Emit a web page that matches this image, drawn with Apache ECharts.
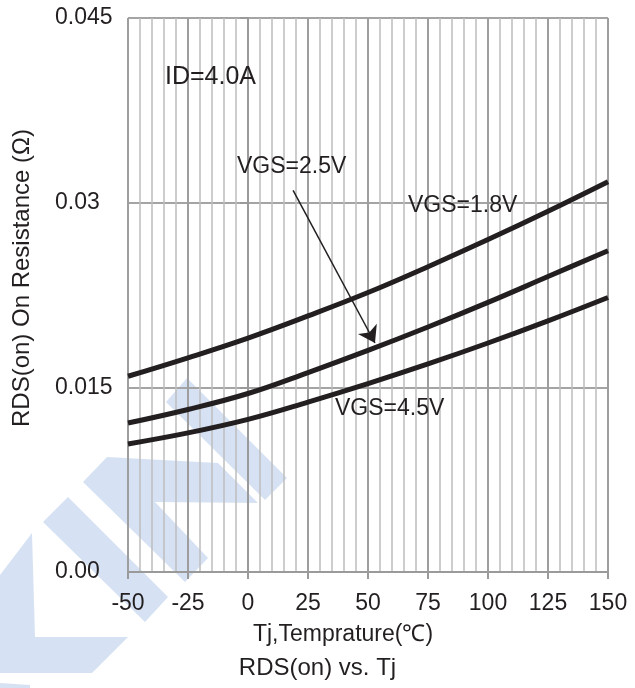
<!DOCTYPE html>
<html>
<head>
<meta charset="utf-8">
<script src="https://cdn.jsdelivr.net/npm/echarts@6/dist/echarts.min.js"></script>
<style>
  html, body { margin: 0; padding: 0; background: #fff; }
  #chart { width: 635px; height: 688px; }
</style>
</head>
<body>
<div id="chart"></div>
<script>
// junction temperature (℃)
var temps = [-50, -25, 0, 25, 50, 75, 100, 125, 150];
// RDS(on) in ohm
var vgs18 = [0.0159, 0.0174, 0.0190, 0.0208, 0.0227, 0.0248, 0.0270, 0.0293, 0.0317];
var vgs25 = [0.0121, 0.0132, 0.0145, 0.0162, 0.0180, 0.0199, 0.0219, 0.0240, 0.0261];
var vgs45 = [0.0104, 0.0113, 0.0124, 0.0138, 0.0153, 0.0169, 0.0186, 0.0204, 0.0223];
var yTickLabels = ['0.00', '0.015', '0.03', '0.045'];
// arrow from the VGS=2.5V label to its curve
var arrowFrom = [18.8, 0.0310];
var arrowTo = [52.9, 0.0186];

var font = '"Liberation Sans", Arial, sans-serif';
var ink = '#231f20';

function pairs(ys) {
  return temps.map(function (t, i) { return [t, ys[i]]; });
}

function curve(name, ys) {
  return {
    name: name,
    type: 'line',
    smooth: 0.4,
    symbol: 'none',
    lineStyle: {color: ink, width: 5},
    data: pairs(ys)
  };
}

// light blue logo watermark in the lower left corner
var wm = 'rgba(180, 203, 234, 0.55)';
var watermark = [
  [[187, 378], [287, 478], [265, 500], [166, 402]],
  [[107, 457], [218, 463], [258, 503], [155, 502], [208, 558], [185, 582], [83, 482]],
  [[68, 497], [168, 597], [145, 622], [43, 522]],
  [[32, 533], [35, 637], [128, 637], [92, 673], [0, 673], [0, 575]],
  [[0, 683], [30, 685], [30, 688], [0, 688]]
].map(function (pts) {
  return {type: 'polygon', z: -10, silent: true, shape: {points: pts}, style: {fill: wm}};
});

function label(text, x, y, size) {
  return {
    type: 'text', left: x, top: y, z: 50,
    style: {text: text, font: size + 'px ' + font, fill: ink}
  };
}

var chart = echarts.init(document.getElementById('chart'));
chart.setOption({
  animation: false,
  backgroundColor: '#fff',
  title: {
    text: 'RDS(on) vs. Tj',
    left: 'center',
    top: 651,
    textStyle: {fontFamily: font, fontSize: 24, fontWeight: 'normal', color: ink}
  },
  grid: {left: 128, right: 27, top: 18, bottom: 116},
  xAxis: {
    type: 'value',
    min: -50,
    max: 150,
    interval: 25,
    axisLine: {lineStyle: {color: '#9a9a9a', width: 2}},
    axisTick: {show: true, length: 7, lineStyle: {color: '#9a9a9a', width: 2}},
    axisLabel: {margin: 20, fontFamily: font, fontSize: 23, color: ink},
    splitLine: {lineStyle: {color: '#9e9e9e', width: 2}},
    minorTick: {show: false, splitNumber: 5},
    minorSplitLine: {show: true, lineStyle: {color: '#bdbdbd', width: 1.5}}
  },
  yAxis: {
    type: 'value',
    min: 0,
    max: 0.045,
    interval: 0.015,
    axisLine: {show: true, lineStyle: {color: '#9a9a9a', width: 2}},
    axisTick: {show: true, length: 8, lineStyle: {color: '#9a9a9a', width: 2}},
    axisLabel: {
      align: 'left',
      margin: 73,
      fontFamily: font,
      fontSize: 23,
      color: ink,
      formatter: function (v, i) { return yTickLabels[i]; }
    },
    splitLine: {lineStyle: {color: '#a4a4a4', width: 2}}
  },
  graphic: watermark.concat([
    label('ID=4.0A', 165, 65, 25),
    label('VGS=2.5V', 237, 155, 23),
    label('VGS=1.8V', 408, 194, 23),
    label('VGS=4.5V', 335, 397, 23),
    {
      type: 'text', x: 10, y: 278, rotation: Math.PI / 2, z: 50,
      style: {
        text: 'RDS(on) On Resistance (Ω)', font: '24px ' + font, fill: ink,
        align: 'center', verticalAlign: 'top'
      }
    },
    {
      type: 'text', x: 343, y: 623, z: 50,
      style: {
        text: 'Tj,Temprature(℃)', font: '23px ' + font, fill: ink,
        align: 'center', verticalAlign: 'top'
      }
    }
  ]),
  series: [
    curve('VGS=1.8V', vgs18),
    curve('VGS=2.5V', vgs25),
    curve('VGS=4.5V', vgs45),
    {
      type: 'line',
      data: [],
      markLine: {
        silent: true,
        symbol: ['none', 'arrow'],
        symbolSize: 16,
        label: {show: false},
        lineStyle: {color: ink, width: 1.5, type: 'solid'},
        data: [[{coord: arrowFrom}, {coord: arrowTo}]]
      }
    }
  ]
});
</script>
</body>
</html>
